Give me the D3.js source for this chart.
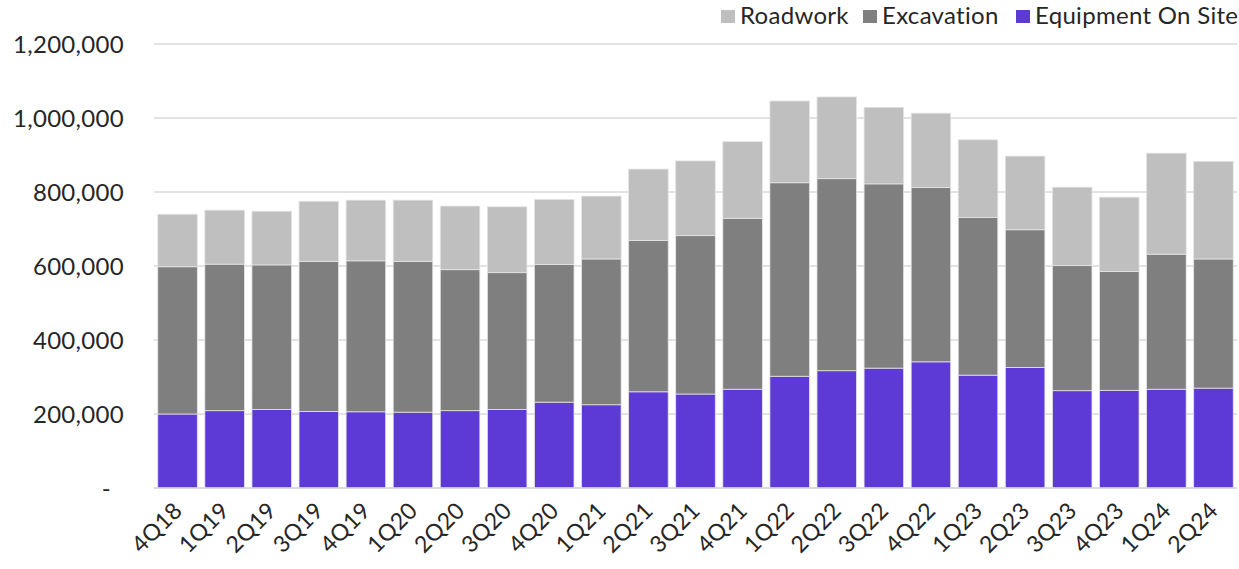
<!DOCTYPE html>
<html>
<head>
<meta charset="utf-8">
<script src="https://cdn.jsdelivr.net/npm/d3@7/dist/d3.min.js"></script>
<style>
  html, body { margin: 0; padding: 0; background: #fff; }
  svg { display: block; }
  text { font-family: "Lato", "Noto Sans", sans-serif; fill: #262626; }
</style>
</head>
<body>
<svg id="chart" width="1239" height="569"></svg>
<script>
const categories = ["4Q18","1Q19","2Q19","3Q19","4Q19","1Q20","2Q20","3Q20","4Q20","1Q21","2Q21","3Q21","4Q21","1Q22","2Q22","3Q22","4Q22","1Q23","2Q23","3Q23","4Q23","1Q24","2Q24"];
const equipmentOnSite = [200000,209000,212000,207000,206000,205000,209000,212000,232000,225000,260000,254000,267000,302000,317000,324000,341000,305000,326000,263000,264000,267000,270000];
const excavation = [398000,396000,391000,405000,408000,407000,381000,370000,372000,394000,409000,428000,462000,523000,519000,498000,471000,426000,372000,338000,321000,365000,349000];
const roadwork = [142000,146000,145000,163000,164000,166000,172000,178000,176000,170000,193000,202000,207000,221000,221000,207000,201000,210000,199000,212000,201000,273000,264000];
const yTicks = [0,200000,400000,600000,800000,1000000,1200000];
const seriesNames = ["Equipment On Site","Excavation","Roadwork"];
const legendOrder = ["Roadwork","Excavation","Equipment On Site"];
const colors = {"Equipment On Site":"#5d3ad6","Excavation":"#7f7f7f","Roadwork":"#bfbfbf"};

const svg = d3.select("#chart");
const rows = categories.map((c,i) => ({cat:c, "Equipment On Site":equipmentOnSite[i], "Excavation":excavation[i], "Roadwork":roadwork[i]}));
const stack = d3.stack().keys(seriesNames)(rows);

const x = d3.scaleBand().domain(categories).range([154, 1237]).paddingInner(0.16).paddingOuter(0.08);
const y = d3.scaleLinear().domain([0,1200000]).range([488, 44]);

// gridlines
svg.append("g").selectAll("line").data(yTicks).join("line")
  .attr("x1",154).attr("x2",1237)
  .attr("y1",d=>y(d)).attr("y2",d=>y(d))
  .attr("stroke","#d9d9d9").attr("stroke-width",1.5);

// y labels
svg.append("g").selectAll("text").data(yTicks).join("text")
  .attr("x", d => d===0 ? 111 : 124)
  .attr("y", d=>y(d))
  .attr("dy","0.36em")
  .attr("text-anchor","end")
  .style("font-size","24px")
  .style("letter-spacing","0.3px")
  .text(d => d===0 ? "-" : d3.format(",")(d));

// bars
svg.append("g").selectAll("g").data(stack).join("g")
  .attr("fill", d=>colors[d.key])
  .selectAll("rect").data(d=>d).join("rect")
  .attr("x", d=>x(d.data.cat))
  .attr("width", x.bandwidth())
  .attr("y", d=>y(d[1]))
  .attr("height", d=>y(d[0])-y(d[1]))
  .attr("stroke","#e4e4e4").attr("stroke-width",0.8);

// baseline
svg.append("line").attr("x1",154).attr("x2",1237).attr("y1",y(0)).attr("y2",y(0))
  .attr("stroke","#d9d9d9").attr("stroke-width",1.5);

// x labels
svg.append("g").selectAll("text").data(categories).join("text")
  .attr("text-anchor","end")
  .attr("transform", d => `translate(${x(d)+x.bandwidth()/2+6},${512}) rotate(-45)`)
  .style("font-size","23px")
  .style("letter-spacing","0.3px")
  .text(d=>d);

// legend
const legendX = [721, 863, 1016];
const lg = svg.append("g").selectAll("g").data(legendOrder).join("g")
  .attr("transform",(d,i)=>`translate(${legendX[i]},0)`);
lg.append("rect").attr("x",0).attr("y",10).attr("width",14).attr("height",13).attr("fill",d=>colors[d]);
lg.append("text").attr("x",19).attr("y",24).style("font-size","24px").style("letter-spacing","0.3px").text(d=>d);
</script>
</body>
</html>
